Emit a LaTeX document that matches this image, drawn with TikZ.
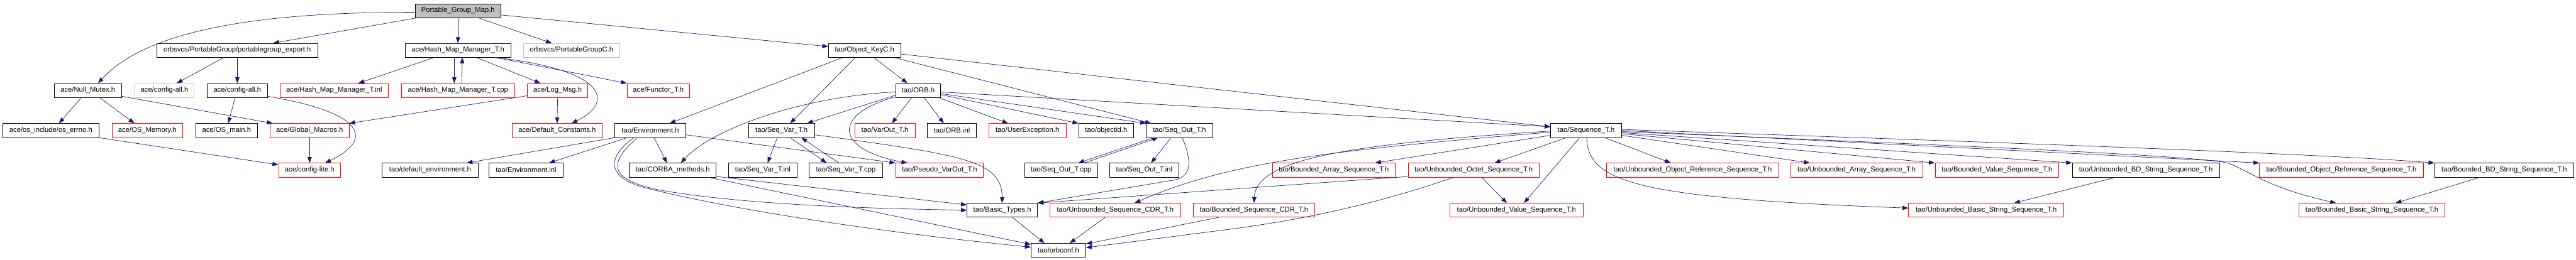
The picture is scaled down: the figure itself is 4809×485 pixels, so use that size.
\documentclass[tikz,border=0pt]{standalone}
\usepackage{fontspec}
\setmainfont{Liberation Sans}
\usetikzlibrary{arrows.meta,calc}
\definecolor{mblue}{RGB}{25,25,112}
\definecolor{gfill}{RGB}{191,191,191}
\tikzset{
  nb/.style={draw=black, line width=0.8pt, minimum height=26pt, inner sep=0pt, fill=white,
     font=\fontsize{13.2}{15}\selectfont},
  nr/.style={nb, draw=red},
  ng/.style={nb, draw=gfill},
  nroot/.style={nb, fill=gfill},
  e/.style={draw=mblue, line width=0.8pt, -{Triangle[length=11pt,width=8pt]}},
}
\begin{document}
\begin{tikzpicture}[x=1pt,y=-1pt]
\fill[white] (0,0) rectangle (4809,485);
\useasboundingbox (0,0) rectangle (4809,485);
% row 0
\node[nroot, minimum width=160pt] (root) at (855,20) {Portable\_Group\_Map.h};
% row 1
\node[nb, minimum width=301pt] (pgexp) at (443,94) {orbsvcs/PortableGroup/portablegroup\_export.h};
\node[nb, minimum width=197pt] (hmm) at (855,94) {ace/Hash\_Map\_Manager\_T.h};
\node[ng, minimum width=180pt] (pgc) at (1067,94) {orbsvcs/PortableGroupC.h};
\node[nb, minimum width=135pt] (okc) at (1614,94) {tao/Object\_KeyC.h};
% row 2
\node[nb, minimum width=126pt] (nullmutex) at (164,169) {ace/Null\_Mutex.h};
\node[ng, minimum width=111pt] (cfgallg) at (307,169) {ace/config-all.h};
\node[nb, minimum width=112pt] (cfgall) at (443,169) {ace/config-all.h};
\node[nr, minimum width=202pt] (hmminl) at (624,169) {ace/Hash\_Map\_Manager\_T.inl};
\node[nr, minimum width=211pt] (hmmcpp) at (855,169) {ace/Hash\_Map\_Manager\_T.cpp};
\node[nr, minimum width=113pt] (logmsg) at (1041,169) {ace/Log\_Msg.h};
\node[nr, minimum width=117pt] (functor) at (1229,169) {ace/Functor\_T.h};
\node[nb, minimum width=84pt] (orb) at (1714,169) {tao/ORB.h};
% row 3
\node[nb, minimum width=179pt] (oserrno) at (95,244) {ace/os\_include/os\_errno.h};
\node[nr, minimum width=132pt] (osmem) at (275,244) {ace/OS\_Memory.h};
\node[nb, minimum width=115pt] (osmain) at (423,244) {ace/OS\_main.h};
\node[nr, minimum width=147pt] (globmac) at (578,244) {ace/Global\_Macros.h};
\node[nr, minimum width=168pt] (defconst) at (1040,244) {ace/Default\_Constants.h};
\node[nb, minimum width=132pt] (env) at (1214,244) {tao/Environment.h};
\node[nb, minimum width=124pt] (seqvar) at (1459,244) {tao/Seq\_Var\_T.h};
\node[nr, minimum width=113pt] (varout) at (1652,244) {tao/VarOut\_T.h};
\node[nb, minimum width=92pt] (orbinl) at (1777,244) {tao/ORB.inl};
\node[nr, minimum width=145pt] (userexc) at (1918,244) {tao/UserException.h};
\node[nb, minimum width=103pt] (objectid) at (2065,244) {tao/objectid.h};
\node[nb, minimum width=124pt] (seqout) at (2202,244) {tao/Seq\_Out\_T.h};
\node[nb, minimum width=132pt] (seqt) at (2961,244) {tao/Sequence\_T.h};
% row 4
\node[nr, minimum width=116pt] (cfglite) at (578,318) {ace/config-lite.h};
\node[nb, minimum width=179pt] (defenv) at (803,318) {tao/default\_environment.h};
\node[nb, minimum width=139pt] (envinl) at (982,318) {tao/Environment.inl};
\node[nb, minimum width=162pt] (corbam) at (1256,318) {tao/CORBA\_methods.h};
\node[nb, minimum width=128pt] (seqvarinl) at (1424,318) {tao/Seq\_Var\_T.inl};
\node[nb, minimum width=137pt] (seqvarcpp) at (1579,318) {tao/Seq\_Var\_T.cpp};
\node[nr, minimum width=164pt] (pseudo) at (1754,318) {tao/Pseudo\_VarOut\_T.h};
\node[nb, minimum width=137pt] (seqoutcpp) at (1981,318) {tao/Seq\_Out\_T.cpp};
\node[nb, minimum width=128pt] (seqoutinl) at (2136,318) {tao/Seq\_Out\_T.inl};
\node[nr, minimum width=230pt] (bas) at (2490,318) {tao/Bounded\_Array\_Sequence\_T.h};
\node[nr, minimum width=244pt] (uos) at (2751,318) {tao/Unbounded\_Octet\_Sequence\_T.h};
\node[nr, minimum width=321pt] (uors) at (3160,318) {tao/Unbounded\_Object\_Reference\_Sequence\_T.h};
\node[nr, minimum width=246pt] (uas) at (3466,318) {tao/Unbounded\_Array\_Sequence\_T.h};
\node[nr, minimum width=231pt] (bvs) at (3728,318) {tao/Bounded\_Value\_Sequence\_T.h};
\node[nb, minimum width=275pt] (ubds) at (4006,318) {tao/Unbounded\_BD\_String\_Sequence\_T.h};
\node[nr, minimum width=306pt] (bors) at (4371,318) {tao/Bounded\_Object\_Reference\_Sequence\_T.h};
\node[nb, minimum width=260pt] (bbds) at (4675,318) {tao/Bounded\_BD\_String\_Sequence\_T.h};
% row 5
\node[nb, minimum width=131pt] (basic) at (1871,393) {tao/Basic\_Types.h};
\node[nr, minimum width=244pt] (uscdr) at (2082,393) {tao/Unbounded\_Sequence\_CDR\_T.h};
\node[nr, minimum width=227pt] (bscdr) at (2341,393) {tao/Bounded\_Sequence\_CDR\_T.h};
\node[nr, minimum width=248pt] (uvs) at (2831,393) {tao/Unbounded\_Value\_Sequence\_T.h};
\node[nr, minimum width=290pt] (ubss) at (3708,393) {tao/Unbounded\_Basic\_String\_Sequence\_T.h};
\node[nr, minimum width=273pt] (bbss) at (4428,393) {tao/Bounded\_Basic\_String\_Sequence\_T.h};
% row 6
\node[nb, minimum width=102pt] (orbconf) at (1976,468) {tao/orbconf.h};

% ---------- edges ----------
\path[e] ($(root.west)+(0,3)$) .. controls (470,22) and (270,60) .. ($(nullmutex.north)+(19,0)$);
\path[e] ($(root.south west)+(4,0)$) -- ($(pgexp.north)+(67,0)$);
\path[e] (root.south) -- (hmm.north);
\path[e] ($(root.south)+(38,0)$) -- ($(pgc.north)+(-37,0)$);
\path[e] ($(root.east)+(0,8)$) -- ($(okc.west)+(0,-7)$);

\path[e] ($(pgexp.south)+(-25,0)$) -- ($(cfgallg.north)+(23,0)$);
\path[e] (pgexp.south) -- (cfgall.north);

\path[e] ($(nullmutex.south)+(-12,0)$) -- ($(oserrno.north)+(15,0)$);
\path[e] ($(nullmutex.south)+(22,0)$) -- ($(osmem.north)+(-24,0)$);
\path[e] ($(nullmutex.east)+(0,11)$) -- ($(globmac.north west)+(5,0)$);
\path[e] ($(cfgall.south)+(-4,0)$) -- ($(osmain.north)+(3,0)$);
\path[e] ($(cfgall.east)+(0,11)$) .. controls (680,210) and (700,260) .. ($(cfglite.north)+(29,0)$);
\path[e] (oserrno.south east) -- ($(cfglite.west)+(0,-10)$);
\path[e] (globmac.south) -- (cfglite.north);

\path[e] ($(hmm.south)+(-44,0)$) -- ($(hmminl.north)+(45,0)$);
\path[e] ($(hmm.south)+(-7,0)$) -- ($(hmmcpp.north)+(-7,0)$);
\path[e] ($(hmmcpp.north)+(7,0)$) -- ($(hmm.south)+(8,0)$);
\path[e] ($(hmm.south)+(34,0)$) -- ($(logmsg.north)+(-32,0)$);
\path[e] ($(hmm.south)+(70,0)$) -- (functor.north west);
\path[e] ($(hmm.south)+(68,0)$) .. controls (1130,130) and (1150,190) .. ($(defconst.north)+(27,0)$);
\path[e] ($(logmsg.west)+(0,10)$) -- (globmac.north east);
\path[e] (logmsg.south) -- (defconst.north);

\path[e] ($(okc.south)+(-40,0)$) -- ($(env.north)+(36,0)$);
\path[e] ($(okc.south)+(-17,0)$) -- ($(seqvar.north)+(16,0)$);
\path[e] ($(okc.south)+(17,0)$) -- ($(orb.north)+(-20,0)$);
\path[e] ($(okc.south)+(54,0)$) -- ($(seqout.north)+(-53,0)$);
\path[e] ($(okc.east)+(0,7)$) -- ($(seqt.west)+(0,-7)$);

\path[e] ($(orb.south)+(-12,0)$) -- ($(varout.north)+(13,0)$);
\path[e] ($(orb.south)+(11,0)$) -- ($(orbinl.north)+(-15,0)$);
\path[e] ($(orb.south east)+(-4,0)$) -- ($(userexc.north)+(-36,0)$);
\path[e] ($(orb.east)+(0,8)$) -- (objectid.north west);
\path[e] ($(orb.east)+(0,6)$) -- (seqout.north west);
\path[e] ($(orb.east)+(0,3)$) -- ($(seqt.west)+(0,-7)$);
\path[e] ($(orb.west)+(0,3)$) .. controls (1500,180) and (1330,240) .. ($(corbam.north)+(15,0)$);
\path[e] ($(orb.west)+(0,9)$) -- ($(seqvar.north east)+(-15,0)$);
\path[e] ($(orb.west)+(0,12)$) .. controls (1550,215) and (1560,280) .. ($(pseudo.north)+(-60,0)$);

\path[e] (env.south west) -- ($(defenv.north)+(68,0)$);
\path[e] ($(env.south)+(-43,0)$) -- ($(envinl.north)+(43,0)$);
\path[e] ($(env.south)+(7,0)$) -- ($(corbam.north)+(-11,0)$);
\path[e] ($(env.east)+(0,8)$) -- (pseudo.north west);
\path[e] ($(env.south)+(-24,0)$) .. controls (1135,305) and (1135,335) .. (1230,355)
   .. controls (1400,385) and (1650,390) .. (basic.west);
\path[e] ($(env.south)+(-31,0)$) .. controls (1125,300) and (1140,335) .. (1208,352)
   .. controls (1400,400) and (1700,440) .. ($(orbconf.west)+(0,-6)$);
\path[e] ($(corbam.east)+(0,12)$) -- ($(basic.west)+(0,-10)$);
\path[e] ($(corbam.south)+(66,0)$) -- ($(orbconf.west)+(0,-11)$);

\path[e] ($(seqvar.south)+(-8,0)$) -- ($(seqvarinl.north)+(9,0)$);
\path[e] ($(seqvar.south)+(16,0)$) -- ($(seqvarcpp.north)+(-36,0)$);
\path[e] ($(seqvarcpp.north)+(-13,0)$) -- ($(seqvar.south)+(37,0)$);
\path[e] ($(seqvar.east)+(0,8)$) .. controls (1800,290) and (1870,300) .. (basic.north);

\path[e] ($(seqout.south)+(-48,0)$) -- ($(seqoutcpp.north)+(32,0)$);
\path[e] ($(seqoutcpp.north)+(43,0)$) -- ($(seqout.south)+(-40,0)$);
\path[e] ($(seqout.south)+(-16,0)$) -- ($(seqoutinl.north)+(13,0)$);
\path[e] ($(seqout.south)+(5,0)$) .. controls (2225,300) and (2225,328) .. (2195,336) -- (basic.north east);

\path[e] ($(uos.west)+(0,12)$) -- (basic.north east);
\path[e] ($(uos.south)+(-37,0)$) .. controls (2560,385) and (2420,412) .. (2300,428) -- ($(orbconf.east)+(0,-5)$);
\path[e] ($(basic.south)+(19,0)$) -- ($(orbconf.north)+(-26,0)$);
\path[e] ($(uscdr.south)+(-19,0)$) -- ($(orbconf.north)+(21,0)$);
\path[e] ($(bscdr.south)+(-66,0)$) -- ($(orbconf.east)+(0,-12)$);

\path[e] ($(seqt.west)+(0,1)$) .. controls (2500,270) and (2345,300) .. (bscdr.north);
\path[e] ($(seqt.west)+(0,3)$) .. controls (2500,280) and (2300,300) .. ($(uscdr.north)+(36,0)$);
\path[e] ($(seqt.west)+(0,9)$) -- ($(bas.north)+(77,0)$);
\path[e] ($(seqt.south)+(-37,0)$) -- ($(uos.north)+(39,0)$);
\path[e] ($(seqt.south)+(-12,0)$) -- ($(uvs.north)+(14,0)$);
\path[e] ($(uos.south)+(15,0)$) -- ($(uvs.north)+(-18,0)$);
\path[e] ($(seqt.south)+(1,0)$) .. controls (2965,340) and (3050,370) .. ($(ubss.west)+(0,-4)$);
\path[e] ($(seqt.south)+(35,0)$) -- ($(uors.north)+(-41,0)$);
\path[e] ($(seqt.east)+(0,9)$) -- ($(uas.north west)+(36,0)$);
\path[e] ($(seqt.east)+(0,6)$) -- (bvs.north west);
\path[e] ($(seqt.east)+(0,4)$) -- (ubds.north west);
\path[e] ($(seqt.east)+(0,0)$) -- (bors.north west);
\path[e] ($(seqt.east)+(0,-2)$) .. controls (3600,262) and (4300,285) .. (bbds.north west);
\path[e] ($(seqt.east)+(0,2)$) .. controls (3600,270) and (4100,290) .. (4160,305)
   .. controls (4200,320) and (4230,350) .. ($(bbss.north)+(-67,0)$);

\path[e] ($(ubds.south)+(-56,0)$) -- ($(ubss.north)+(52,0)$);
\path[e] ($(bbds.south)+(-45,0)$) -- ($(bbss.north)+(44,0)$);
\end{tikzpicture}
\end{document}
